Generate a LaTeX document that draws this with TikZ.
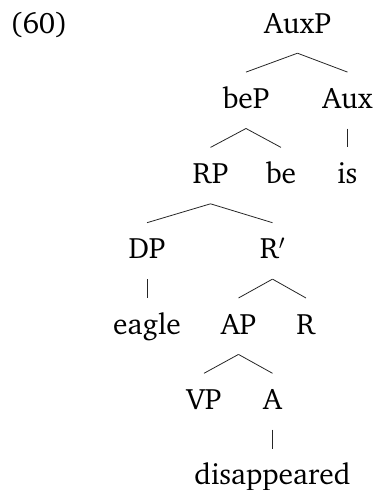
\documentclass[tikz,border=0pt]{standalone}
\usepackage[T1]{fontenc}
\renewcommand{\rmdefault}{bch}
\begin{document}
\begin{tikzpicture}[x=1pt,y=-1pt,
  lab/.style={font=\fontsize{29.5}{33}\selectfont, inner xsep=0pt, inner ysep=10pt,
    text height=26pt, text depth=10pt, anchor=base},
  br/.style={line width=0.8pt, draw=black!85}]
\useasboundingbox (0,0) rectangle (376,490);
\def\L#1{33+75.3*#1}
\node[lab, anchor=base west] (ex) at (10,33) {(60)};
\node[lab] (auxp) at (297.5,{\L0}) {AuxP};
\node[lab] (bep) at (246,{\L1}) {beP};
\node[lab] (aux) at (347.5,{\L1}) {Aux};
\node[lab] (rp) at (210.5,{\L2}) {RP};
\node[lab] (be) at (281,{\L2}) {be};
\node[lab] (is) at (347.5,{\L2}) {is};
\node[lab] (dp) at (147,{\L3}) {DP};
\node[lab] (rbar) at (272.5,{\L3}) {R$'$};
\node[lab] (eagle) at (147,{\L4}) {eagle};
\node[lab] (ap) at (238.5,{\L4}) {AP};
\node[lab] (r) at (306,{\L4}) {R};
\node[lab] (vp) at (204,{\L5}) {VP};
\node[lab] (a) at (272.5,{\L5}) {A};
\node[lab] (dis) at (272.5,{\L6}) {disappeared};
\draw[br] (auxp.south) -- (bep.north);
\draw[br] (auxp.south) -- (aux.north);
\draw[br] (bep.south) -- (rp.north);
\draw[br] (bep.south) -- (be.north);
\draw[br] (aux.south) -- (is.north);
\draw[br] (rp.south) -- (dp.north);
\draw[br] (rp.south) -- (rbar.north);
\draw[br] (dp.south) -- (eagle.north);
\draw[br] (rbar.south) -- (ap.north);
\draw[br] (rbar.south) -- (r.north);
\draw[br] (ap.south) -- (vp.north);
\draw[br] (ap.south) -- (a.north);
\draw[br] (a.south) -- (dis.north);
\end{tikzpicture}
\end{document}
